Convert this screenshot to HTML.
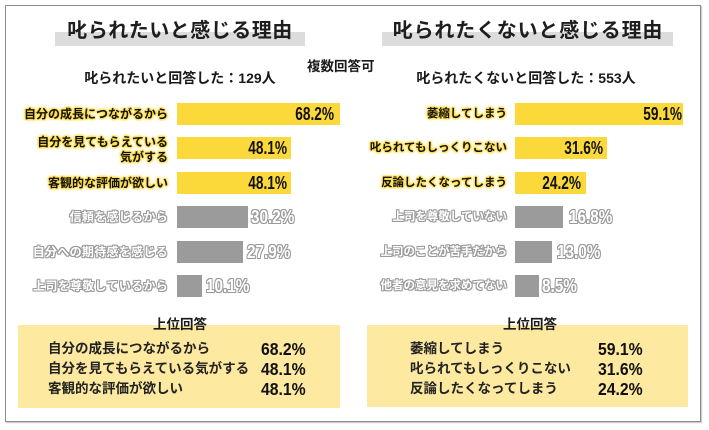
<!DOCTYPE html>
<html><head><meta charset="utf-8">
<style>
*{margin:0;padding:0;box-sizing:border-box}
body{width:709px;height:430px;background:#fff;position:relative;overflow:hidden;font-family:"Liberation Sans","Noto Sans CJK JP",sans-serif;color:#1a1a1a}
.a{position:absolute;white-space:nowrap}
.frame{left:5px;top:5px;width:696px;height:417px;border:1px solid #8c8c8c;box-shadow:1px 1px 1px #c4c4c4}
.tbar{background:#dcdcdc;height:14px;top:32px}
.title{font-size:20px;font-weight:700;line-height:20px;top:21px;text-align:center;color:#1e1e1e}
.sub{font-size:14px;font-weight:700;line-height:16px;top:70px;text-align:center}
.lbl{font-size:12px;font-weight:700;line-height:14px;text-align:right;color:#111;
 text-shadow:0 0 2px #fcd93a,0 0 2px #fcd93a,0 0 2px #fcd93a,0 0 3px #fcd93a,0 0 3px #fcd93a}
.glbl{font-size:12px;font-weight:700;line-height:14px;text-align:right;color:#fff;
 text-shadow:1px 0 0 #9a9a9a,-1px 0 0 #9a9a9a,0 1px 0 #9a9a9a,0 -1px 0 #9a9a9a,1px 1px 0 #9a9a9a,-1px -1px 0 #9a9a9a,1px -1px 0 #9a9a9a,-1px 1px 0 #9a9a9a}
.bar{height:22px;background:#fcd93a}
.gbar{height:22px;background:#9b9b9b}
.val{font-size:18px;font-weight:700;line-height:22px;text-align:right;color:#111}
.val span{display:inline-block;transform:scaleX(.76);transform-origin:right center}
.gval{font-size:18px;font-weight:700;line-height:22px;text-align:left;color:#fff;
 text-shadow:1px 0 0 #9a9a9a,-1px 0 0 #9a9a9a,0 1px 0 #9a9a9a,0 -1px 0 #9a9a9a,1px 1px 0 #9a9a9a,-1px -1px 0 #9a9a9a,1px -1px 0 #9a9a9a,-1px 1px 0 #9a9a9a}
.gval span{display:inline-block;transform:scaleX(.85);transform-origin:left center}
.box{background:#fde9a0;top:325px;height:83px}
.bh{font-size:13.5px;font-weight:700;line-height:14px;top:318px;text-align:center}
.row{font-size:13.5px;font-weight:700;line-height:20px;color:#222}
.bv{font-size:17.5px;font-weight:700;line-height:20px;text-align:right;color:#111}
.bv span{display:inline-block;transform:scaleX(.9);transform-origin:right center}
</style></head><body>
<div class="a frame"></div>

<!-- Titles -->
<div class="a tbar" style="left:55px;width:250px"></div>
<div class="a title" style="left:40px;width:280px;letter-spacing:0.5px">叱られたいと感じる理由</div>
<div class="a tbar" style="left:382px;width:291px"></div>
<div class="a title" style="left:378px;width:300px;letter-spacing:0.8px">叱られたくないと感じる理由</div>

<div class="a" style="left:307px;top:60px;font-size:13.5px;font-weight:700;line-height:14px">複数回答可</div>
<div class="a sub" style="left:60px;width:240px">叱られたいと回答した：129人</div>
<div class="a sub" style="left:406px;width:240px">叱られたくないと回答した：553人</div>

<!-- Left bars -->
<div class="a bar" style="left:177px;top:103px;width:163px"></div>
<div class="a bar" style="left:177px;top:137px;width:114px"></div>
<div class="a bar" style="left:177px;top:172px;width:114px"></div>
<div class="a gbar" style="left:177px;top:206px;width:71px"></div>
<div class="a gbar" style="left:177px;top:241px;width:66px"></div>
<div class="a gbar" style="left:177px;top:275px;width:25px"></div>

<div class="a lbl" style="left:0;width:168px;top:107px">自分の成長につながるから</div>
<div class="a lbl" style="left:0;width:168px;top:135px;line-height:15px">自分を見てもらえている<br>気がする</div>
<div class="a lbl" style="left:0;width:168px;top:176px">客観的な評価が欲しい</div>
<div class="a glbl" style="left:0;width:168px;top:210px;letter-spacing:0.3px">信頼を感じるから</div>
<div class="a glbl" style="left:0;width:168px;top:245px;letter-spacing:0.3px">自分への期待感を感じる</div>
<div class="a glbl" style="left:0;width:168px;top:279px;letter-spacing:0.3px">上司を尊敬しているから</div>

<div class="a val" style="left:240px;width:94px;top:103px"><span>68.2%</span></div>
<div class="a val" style="left:190px;width:97px;top:137px"><span>48.1%</span></div>
<div class="a val" style="left:190px;width:97px;top:172px"><span>48.1%</span></div>
<div class="a gval" style="left:251px;top:206px"><span>30.2%</span></div>
<div class="a gval" style="left:247px;top:241px"><span>27.9%</span></div>
<div class="a gval" style="left:206px;top:275px"><span>10.1%</span></div>

<!-- Right bars -->
<div class="a bar" style="left:515px;top:103px;width:168px"></div>
<div class="a bar" style="left:515px;top:137px;width:92px"></div>
<div class="a bar" style="left:515px;top:172px;width:71px"></div>
<div class="a gbar" style="left:515px;top:206px;width:48px"></div>
<div class="a gbar" style="left:515px;top:241px;width:37px"></div>
<div class="a gbar" style="left:515px;top:275px;width:24px"></div>

<div class="a lbl" style="left:350px;width:157px;top:107px;font-size:11.5px">萎縮してしまう</div>
<div class="a lbl" style="left:350px;width:157px;top:141px;font-size:11.5px">叱られてもしっくりこない</div>
<div class="a lbl" style="left:350px;width:157px;top:176px;font-size:11.5px">反論したくなってしまう</div>
<div class="a glbl" style="left:350px;width:157px;top:210px;font-size:11.5px">上司を尊敬していない</div>
<div class="a glbl" style="left:350px;width:157px;top:245px;font-size:11.5px">上司のことが苦手だから</div>
<div class="a glbl" style="left:350px;width:157px;top:279px;font-size:11.5px">他者の意見を求めてない</div>

<div class="a val" style="left:580px;width:102px;top:103px"><span>59.1%</span></div>
<div class="a val" style="left:520px;width:83px;top:137px"><span>31.6%</span></div>
<div class="a val" style="left:520px;width:61px;top:172px"><span>24.2%</span></div>
<div class="a gval" style="left:569px;top:206px"><span>16.8%</span></div>
<div class="a gval" style="left:557px;top:241px"><span>13.0%</span></div>
<div class="a gval" style="left:542px;top:275px"><span>8.5%</span></div>

<!-- Bottom boxes -->
<div class="a box" style="left:18px;width:322px"></div>
<div class="a bh" style="left:130px;width:100px">上位回答</div>
<div class="a row" style="left:48px;top:339px">自分の成長につながるから</div>
<div class="a row" style="left:48px;top:359px">自分を見てもらえている気がする</div>
<div class="a row" style="left:48px;top:379px">客観的な評価が欲しい</div>
<div class="a bv" style="left:220px;width:86px;top:339px"><span>68.2%</span></div>
<div class="a bv" style="left:220px;width:86px;top:359px"><span>48.1%</span></div>
<div class="a bv" style="left:220px;width:86px;top:379px"><span>48.1%</span></div>

<div class="a box" style="left:367px;width:321px;height:82px"></div>
<div class="a bh" style="left:480px;width:100px">上位回答</div>
<div class="a row" style="left:410px;top:339px">萎縮してしまう</div>
<div class="a row" style="left:410px;top:359px">叱られてもしっくりこない</div>
<div class="a row" style="left:410px;top:379px">反論したくなってしまう</div>
<div class="a bv" style="left:560px;width:83px;top:339px"><span>59.1%</span></div>
<div class="a bv" style="left:560px;width:83px;top:359px"><span>31.6%</span></div>
<div class="a bv" style="left:560px;width:83px;top:379px"><span>24.2%</span></div>
</body></html>
